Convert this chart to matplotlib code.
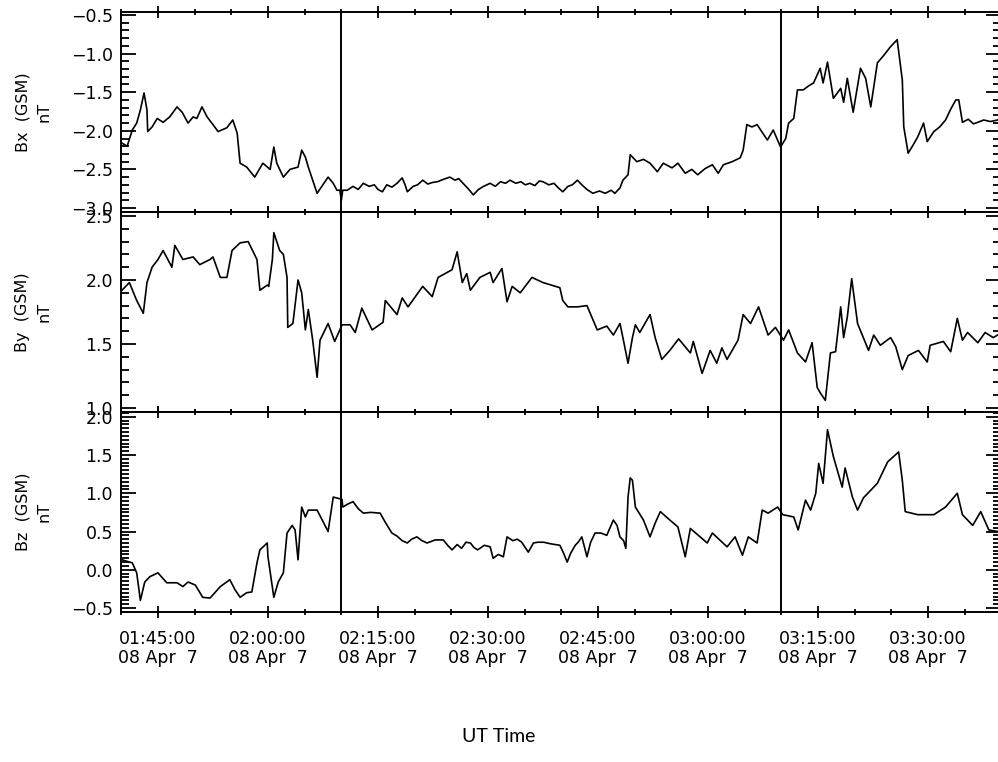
import matplotlib
matplotlib.use('Agg')
import matplotlib.pyplot as plt
import matplotlib.dates as mdates
import matplotlib.ticker as mticker
import pandas as pd

# Data: minutes after 2008-04-07 01:40 UT, field components in nT (GSM)
T0 = pd.Timestamp('2008-04-07 01:40:00')
MARKERS = ['2008-04-07 02:10:00', '2008-04-07 03:10:00']

bx_t = [0.1, 0.8, 1.5, 2.1, 2.6, 3.1, 3.5, 3.6, 4.2, 4.9, 5.7, 6.6, 7.6, 8.3, 9.1, 9.8, 10.3,
        11.0, 11.7, 12.5, 13.2, 14.4, 15.2, 15.8, 16.2, 17.1, 18.2, 19.3, 20.3, 20.8, 21.2,
        22.1, 23.0, 24.1, 24.6, 25.1, 25.5, 26.7, 28.2, 28.9, 29.4, 29.8, 30.0, 30.2, 30.8,
        31.6, 32.3, 33.0, 33.8, 34.5, 35.0, 35.6, 36.2, 36.9, 37.6, 38.3, 38.7, 39.0, 39.8,
        40.4, 41.1, 41.8, 42.4, 43.1, 43.9, 44.8, 45.5, 46.0, 46.6, 47.3, 48.0, 48.7, 49.4,
        50.3, 51.0, 51.7, 52.4, 53.0, 53.8, 54.5, 55.1, 55.7, 56.4, 57.0, 57.5, 58.3, 59.0,
        59.6, 60.2, 60.9, 61.5, 62.2, 62.8, 63.5, 64.3, 65.2, 66.0, 66.8, 67.3, 68.0, 68.4,
        69.1, 69.4, 70.3, 71.2, 72.1, 73.1, 73.9, 75.1, 75.9, 76.9, 77.8, 78.6, 79.6, 80.6,
        81.4, 82.1, 83.3, 84.4, 84.8, 85.3, 86.0, 86.7, 87.4, 88.1, 88.9, 89.9, 90.6, 91.0,
        91.7, 92.2, 93.0, 93.7, 94.4, 95.3, 95.7, 96.3, 97.1, 98.1, 98.5, 99.0, 99.8, 100.8,
        101.5, 102.2, 103.1, 104.0, 104.9, 105.8, 106.5, 106.7, 107.3, 108.0, 108.6, 109.4,
        109.9, 110.8, 111.6, 112.4, 113.1, 113.8, 114.2, 114.7, 115.5, 116.2, 116.8, 117.6,
        118.5, 119.5]
bx_v = [-2.16, -2.20, -1.99, -1.90, -1.73, -1.51, -1.73, -2.01, -1.95, -1.84, -1.89, -1.82,
        -1.69, -1.76, -1.90, -1.82, -1.84, -1.69, -1.82, -1.92, -2.01, -1.96, -1.86, -2.03,
        -2.42, -2.47, -2.60, -2.42, -2.50, -2.21, -2.42, -2.60, -2.50, -2.47, -2.25, -2.34,
        -2.47, -2.81, -2.60, -2.68, -2.77, -2.77, -2.90, -2.77, -2.77, -2.72, -2.76, -2.68,
        -2.72, -2.70, -2.76, -2.79, -2.70, -2.73, -2.68, -2.61, -2.70, -2.79, -2.72, -2.70,
        -2.64, -2.69, -2.67, -2.66, -2.63, -2.60, -2.64, -2.62, -2.68, -2.75, -2.83, -2.76,
        -2.72, -2.68, -2.72, -2.66, -2.68, -2.64, -2.68, -2.66, -2.70, -2.68, -2.71, -2.65,
        -2.66, -2.70, -2.68, -2.74, -2.79, -2.72, -2.70, -2.64, -2.70, -2.76, -2.81, -2.78,
        -2.81, -2.77, -2.81, -2.74, -2.64, -2.57, -2.31, -2.40, -2.37, -2.42, -2.53, -2.42,
        -2.48, -2.42, -2.55, -2.50, -2.57, -2.49, -2.44, -2.55, -2.44, -2.40, -2.35, -2.25,
        -1.92, -1.95, -1.92, -2.02, -2.12, -1.99, -2.21, -2.10, -1.90, -1.84, -1.47, -1.47,
        -1.42, -1.38, -1.19, -1.38, -1.11, -1.58, -1.45, -1.63, -1.32, -1.76, -1.19, -1.32,
        -1.69, -1.12, -1.02, -0.91, -0.82, -1.34, -1.95, -2.29, -2.18, -2.08, -1.90, -2.14,
        -2.01, -1.95, -1.86, -1.72, -1.60, -1.60, -1.89, -1.85, -1.91, -1.89, -1.86, -1.88,
        -1.86]

by_t = [0.1, 1.1, 2.1, 3.0, 3.5, 4.2, 5.0, 5.7, 6.9, 7.3, 8.4, 9.8, 10.7, 12.1, 12.5, 13.5,
        14.4, 15.1, 16.2, 17.3, 18.5, 18.9, 19.9, 20.1, 20.6, 20.8, 21.6, 22.1, 22.6, 22.7,
        23.4, 24.1, 24.6, 25.1, 25.5, 26.1, 26.7, 27.1, 28.2, 29.1, 30.1, 31.2, 31.9, 32.8,
        34.2, 35.7, 36.0, 37.6, 38.3, 39.1, 41.1, 42.4, 43.2, 45.1, 45.8, 46.5, 47.1, 47.6,
        48.9, 50.3, 50.7, 51.9, 52.6, 53.3, 54.4, 56.0, 57.5, 59.8, 60.2, 60.9, 62.2, 63.5,
        64.9, 66.2, 67.1, 68.0, 68.4, 69.1, 69.7, 70.1, 70.7, 72.1, 72.8, 73.7, 74.8, 76.0,
        77.6, 78.0, 79.2, 80.3, 81.2, 81.9, 82.6, 84.1, 84.8, 85.8, 86.9, 88.2, 89.2, 90.3,
        91.0, 92.2, 93.3, 94.2, 94.9, 95.3, 96.0, 96.7, 97.4, 98.1, 98.5, 99.0, 99.6, 100.4,
        101.9, 102.6, 103.5, 104.9, 105.6, 106.5, 107.3, 108.7, 109.9, 110.3, 112.1, 113.1,
        114.0, 114.7, 115.4, 116.8, 117.8, 118.9, 119.5]
by_v = [1.92, 1.98, 1.84, 1.74, 1.98, 2.10, 2.16, 2.23, 2.10, 2.27, 2.16, 2.18, 2.12, 2.16,
        2.18, 2.02, 2.02, 2.23, 2.29, 2.30, 2.16, 1.92, 1.96, 1.95, 2.16, 2.37, 2.23, 2.20,
        2.02, 1.63, 1.66, 2.00, 1.90, 1.61, 1.77, 1.53, 1.24, 1.53, 1.66, 1.52, 1.65, 1.65,
        1.59, 1.78, 1.61, 1.67, 1.84, 1.73, 1.86, 1.79, 1.95, 1.87, 2.02, 2.08, 2.22, 1.98,
        2.05, 1.92, 2.02, 2.06, 1.98, 2.09, 1.83, 1.95, 1.90, 2.02, 1.98, 1.94, 1.84, 1.79,
        1.79, 1.80, 1.61, 1.64, 1.57, 1.66, 1.55, 1.35, 1.55, 1.65, 1.59, 1.73, 1.55, 1.38,
        1.45, 1.54, 1.43, 1.52, 1.27, 1.45, 1.35, 1.47, 1.38, 1.53, 1.73, 1.66, 1.79, 1.57,
        1.63, 1.53, 1.61, 1.43, 1.36, 1.51, 1.16, 1.12, 1.06, 1.43, 1.44, 1.79, 1.55, 1.71,
        2.01, 1.66, 1.45, 1.57, 1.49, 1.55, 1.48, 1.30, 1.41, 1.45, 1.36, 1.49, 1.52, 1.44,
        1.70, 1.53, 1.59, 1.51, 1.59, 1.55, 1.57]

bz_t = [0.1, 1.5, 2.1, 2.6, 3.2, 3.9, 5.0, 6.2, 7.6, 8.4, 9.1, 10.1, 11.1, 12.1, 13.5, 14.8,
        15.5, 16.2, 17.1, 17.8, 18.5, 18.9, 19.9, 20.0, 20.8, 21.4, 22.1, 22.6, 23.3, 23.7,
        24.1, 24.6, 25.1, 25.5, 26.7, 28.2, 28.9, 30.1, 30.2, 30.9, 31.6, 32.3, 33.0, 34.0,
        35.3, 36.0, 36.9, 37.6, 38.3, 39.0, 39.6, 40.3, 41.0, 41.7, 42.8, 43.9, 44.5, 45.1,
        45.8, 46.4, 47.0, 47.6, 48.1, 48.6, 49.5, 50.3, 50.7, 51.4, 52.1, 52.6, 53.4, 54.0,
        54.6, 55.5, 56.2, 56.8, 57.6, 58.5, 59.2, 59.8, 60.3, 60.8, 61.3, 61.9, 62.3, 62.8,
        63.5, 64.0, 64.6, 65.4, 66.2, 67.1, 67.6, 68.0, 68.5, 68.8, 69.1, 69.4, 69.7, 70.1,
        71.2, 72.1, 72.8, 73.5, 74.8, 75.9, 76.9, 77.6, 79.9, 80.6, 82.6, 83.7, 84.7, 85.5,
        86.7, 87.4, 88.2, 89.5, 90.2, 91.7, 92.3, 93.3, 94.0, 94.7, 95.1, 95.7, 96.3, 97.1,
        98.3, 98.7, 99.7, 100.4, 101.2, 103.1, 104.5, 106.0, 106.5, 106.9, 108.6, 110.8,
        112.4, 114.0, 114.7, 116.1, 117.2, 118.3, 119.5]
bz_v = [0.13, 0.09, -0.04, -0.40, -0.16, -0.09, -0.04, -0.17, -0.17, -0.22, -0.16, -0.20,
        -0.36, -0.37, -0.22, -0.13, -0.26, -0.36, -0.30, -0.29, 0.09, 0.26, 0.35, 0.17,
        -0.36, -0.16, -0.04, 0.48, 0.58, 0.52, 0.13, 0.82, 0.69, 0.78, 0.78, 0.50, 0.95,
        0.92, 0.82, 0.86, 0.89, 0.80, 0.74, 0.75, 0.74, 0.62, 0.48, 0.44, 0.38, 0.35, 0.40,
        0.43, 0.38, 0.35, 0.39, 0.39, 0.32, 0.26, 0.33, 0.28, 0.36, 0.35, 0.29, 0.26, 0.32,
        0.30, 0.15, 0.20, 0.17, 0.43, 0.38, 0.40, 0.36, 0.23, 0.35, 0.36, 0.36, 0.34, 0.33,
        0.32, 0.22, 0.10, 0.22, 0.32, 0.36, 0.43, 0.17, 0.36, 0.48, 0.48, 0.45, 0.65, 0.58,
        0.43, 0.38, 0.28, 0.95, 1.20, 1.17, 0.82, 0.65, 0.43, 0.61, 0.76, 0.65, 0.56, 0.17,
        0.54, 0.35, 0.48, 0.30, 0.43, 0.19, 0.43, 0.35, 0.78, 0.74, 0.82, 0.72, 0.69, 0.52,
        0.91, 0.78, 1.00, 1.39, 1.13, 1.83, 1.48, 1.08, 1.33, 0.95, 0.78, 0.94, 1.13, 1.41,
        1.54, 1.17, 0.76, 0.72, 0.72, 0.82, 1.00, 0.72, 0.58, 0.76, 0.52, 0.50]

panels = [
    ('Bx  (GSM)\nnT', bx_t, bx_v, (-3.052, -0.461), 0.1),
    ('By  (GSM)\nnT', by_t, by_v, (0.969, 2.531), 0.1),
    ('Bz  (GSM)\nnT', bz_t, bz_v, (-0.552, 2.062), 0.05),
]

W, H = 998, 762
fig = plt.figure(figsize=(W / 100, H / 100), dpi=100)

left = 121.3 / W
width = 880.0 / W
tops = [12, 212, 412]
ph = 200

minus = mticker.FuncFormatter(lambda v, p: ('%.1f' % v).replace('-', '\u2212'))


def time_fmt(x, pos):
    d = mdates.num2date(x)
    return '%s\n%s %2d' % (d.strftime('%H:%M:%S'), d.strftime('%y %b'), d.day)


axes = []
for i, (label, t, v, ylim, minor) in enumerate(panels):
    ax = fig.add_axes([left, 1 - (tops[i] + ph) / H, width, ph / H])
    times = [T0 + pd.Timedelta(minutes=m) for m in t]
    ax.plot(times, v, color='black', lw=1.2)
    for m in MARKERS:
        ax.axvline(pd.Timestamp(m), color='black', lw=1.4)

    ax.set_xlim(T0, T0 + pd.Timedelta(minutes=120))
    ax.set_ylim(*ylim)

    ax.xaxis.set_major_locator(mdates.MinuteLocator(byminute=[0, 15, 30, 45]))
    ax.xaxis.set_minor_locator(mdates.MinuteLocator(byminute=range(0, 60, 5)))
    ax.yaxis.set_major_locator(mticker.MultipleLocator(0.5))
    ax.yaxis.set_minor_locator(mticker.MultipleLocator(minor))
    ax.yaxis.set_major_formatter(minus)

    ax.tick_params(axis='x', which='major', direction='inout', length=8, width=1.3,
                   top=True, bottom=True)
    ax.tick_params(axis='x', which='minor', direction='inout', length=4.5, width=1.3,
                   top=True, bottom=True)
    ax.tick_params(axis='y', which='major', direction='in', length=11, width=1.3,
                   left=True, right=True, labelsize=12.5, pad=6)
    ax.tick_params(axis='y', which='minor', direction='in', length=5.5, width=1.3,
                   left=True, right=True)
    for s in ax.spines.values():
        s.set_linewidth(1.4)

    if i < 2:
        ax.tick_params(axis='x', labelbottom=False)
    else:
        ax.xaxis.set_major_formatter(mticker.FuncFormatter(time_fmt))
        ax.tick_params(axis='x', labelsize=12.5, pad=9)
        for lab in ax.get_xticklabels():
            lab.set_linespacing(1.1)

    fig.text(33.5 / W, 1 - (tops[i] + ph / 2) / H, label, rotation=90, ha='center',
             va='center', multialignment='center', fontsize=11.5, linespacing=1.55)
    axes.append(ax)

for lab in axes[2].get_xticklabels():
    lab.set_linespacing(1.1)

fig.text(0.5, 1 - 736 / H, 'UT Time', ha='center', va='center', fontsize=14,
         family=['Lato', 'DejaVu Sans'])

fig.savefig('out.png', dpi=100)
